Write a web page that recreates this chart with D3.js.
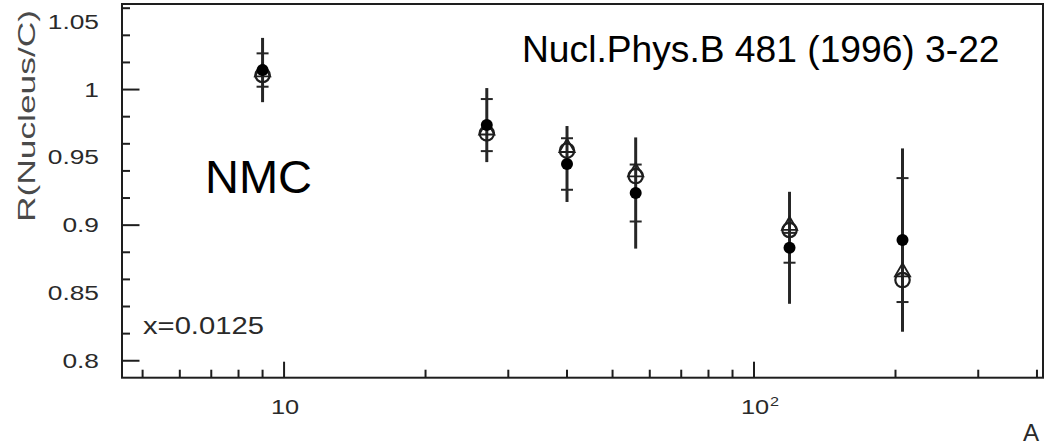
<!DOCTYPE html>
<html>
<head>
<meta charset="utf-8">
<script src="https://cdn.jsdelivr.net/npm/d3@7/dist/d3.min.js"></script>
<style>
  html, body { margin: 0; padding: 0; background: #fff; }
  svg { display: block; }
  text { font-family: "Liberation Sans", Arial, Helvetica, sans-serif; }
</style>
</head>
<body>
<svg id="chart" width="1044" height="445"></svg>
<script>
// Nuclear structure-function ratio R(A/C) at x = 0.0125 (NMC)
const nuclei      = ["Be", "Al", "Ca", "Fe", "Sn", "Pb"];
const massNumber  = [9, 27, 40, 56, 119, 207];
const ratioData   = [1.0144, 0.9738, 0.9451, 0.9237, 0.8833, 0.8890]; // filled circles
const statError   = [0.0123, 0.0192, 0.0190, 0.0210, 0.0110, 0.0457]; // inner error (caps)
const totalError  = [0.0237, 0.0273, 0.0280, 0.0410, 0.0413, 0.0676]; // full error bar
const ratioCircle = [1.0107, 0.9677, 0.9549, 0.9362, 0.8964, 0.8595]; // open circles
const ratioTriang = [1.0129, 0.9701, 0.9572, 0.9392, 0.8997, 0.8654]; // open triangles

const yTickValues = [0.8, 0.85, 0.9, 0.95, 1, 1.05];
const yTickLabels = ["0.8", "0.85", "0.9", "0.95", "1", "1.05"];
const xMajorTicks = [10, 100];
const xMajorBase  = ["10", "10"];
const xMajorExp   = ["", "2"];

const xDomain = [4.52, 412];
const yDomain = [0.7875, 1.0631];

const svg = d3.select("#chart");
const plot = { left: 122, right: 1043, top: 4, bottom: 377.7 };

const x = d3.scaleLog().domain(xDomain).range([plot.left, plot.right]);
const y = d3.scaleLinear().domain(yDomain).range([plot.bottom, plot.top]);

const AXIS = "#1e1e1e";
const STRETCH = 1.35;

// text drawn with the wide glyph proportions of the plot labels
function wideText(g, tx, ty, str, size, anchor, sx, color) {
  return g.append("text")
    .attr("transform", `translate(${tx},${ty}) scale(${sx},1)`)
    .attr("text-anchor", anchor)
    .attr("font-size", size)
    .attr("fill", color)
    .text(str);
}

const points = nuclei.map((n, i) => ({
  name: n, A: massNumber[i], v: ratioData[i], stat: statError[i], tot: totalError[i],
  circ: ratioCircle[i], tri: ratioTriang[i]
}));

// frame
svg.append("rect")
  .attr("x", plot.left).attr("y", plot.top)
  .attr("width", plot.right - plot.left).attr("height", plot.bottom - plot.top)
  .attr("fill", "none").attr("stroke", AXIS).attr("stroke-width", 2);

// y ticks (major every 0.05, minor every 0.025)
const yAll = d3.ticks(yDomain[0], yDomain[1], 11);
const gy = svg.append("g");
yAll.forEach(t => {
  const major = yTickValues.some(m => Math.abs(m - t) < 1e-6);
  gy.append("line")
    .attr("x1", plot.left).attr("x2", plot.left + (major ? 17.5 : 8))
    .attr("y1", y(t)).attr("y2", y(t))
    .attr("stroke", AXIS).attr("stroke-width", 2);
});
yTickValues.forEach((t, i) => {
  wideText(gy, 99, y(t) + 7, yTickLabels[i], 19.5, "end", STRETCH, "#2a2a2a");
});

// x ticks (log axis)
const xAll = x.ticks();
const gx = svg.append("g");
xAll.forEach(t => {
  const major = xMajorTicks.includes(t);
  gx.append("line")
    .attr("x1", x(t)).attr("x2", x(t))
    .attr("y1", plot.bottom).attr("y2", plot.bottom - (major ? 16 : 8))
    .attr("stroke", AXIS).attr("stroke-width", 2);
});
xMajorTicks.forEach((t, i) => {
  wideText(gx, x(t) + 1, 414, xMajorBase[i], 19.5, "middle", 1.3, "#2a2a2a");
  if (xMajorExp[i]) {
    wideText(gx, x(t) + 16, 406, xMajorExp[i], 13.5, "start", 1.2, "#2a2a2a");
  }
});

// axis titles
wideText(svg, 1023, 441, "A", 23, "start", 1.05, "#2a2a2a");
svg.append("text")
  .attr("transform", "translate(35,116) rotate(-90)")
  .attr("text-anchor", "middle")
  .attr("font-size", 24)
  .attr("fill", "#4a4a4a")
  .attr("textLength", 212)
  .attr("lengthAdjust", "spacingAndGlyphs")
  .text("R(Nucleus/C)");

// kinematic label
wideText(svg, 143, 334, "x=0.0125", 23, "start", 1.27, "#2a2a2a");

// annotations
svg.append("text")
  .attr("x", 205).attr("y", 193)
  .attr("font-size", 47).attr("fill", "#000")
  .text("NMC");
svg.append("text")
  .attr("x", 522).attr("y", 62)
  .attr("font-size", 37.2).attr("fill", "#000")
  .text("Nucl.Phys.B 481 (1996) 3-22");

// data
const gd = svg.append("g");
const ERR = "#262626";

// total error bars
gd.selectAll("line.tot").data(points).join("line")
  .attr("class", "tot")
  .attr("x1", d => x(d.A)).attr("x2", d => x(d.A))
  .attr("y1", d => y(d.v + d.tot)).attr("y2", d => y(d.v - d.tot))
  .attr("stroke", ERR).attr("stroke-width", 3);

// inner error caps
points.forEach(d => {
  [d.v + d.stat, d.v - d.stat].forEach(e => {
    gd.append("line")
      .attr("x1", x(d.A) - 6).attr("x2", x(d.A) + 6)
      .attr("y1", y(e)).attr("y2", y(e))
      .attr("stroke", ERR).attr("stroke-width", 2);
  });
});

// open circles
gd.selectAll("circle.open").data(points).join("circle")
  .attr("class", "open")
  .attr("cx", d => x(d.A)).attr("cy", d => y(d.circ))
  .attr("r", 7.2)
  .attr("fill", "none").attr("stroke", "#1e1e1e").attr("stroke-width", 2.2);

// open triangles
const tri = d3.symbol().type(d3.symbolTriangle).size(100);
gd.selectAll("path.tri").data(points).join("path")
  .attr("class", "tri")
  .attr("transform", d => `translate(${x(d.A)},${y(d.tri)})`)
  .attr("d", tri)
  .attr("fill", "none").attr("stroke", "#1e1e1e").attr("stroke-width", 1.8);

// filled circles
gd.selectAll("circle.fill").data(points).join("circle")
  .attr("class", "fill")
  .attr("cx", d => x(d.A)).attr("cy", d => y(d.v))
  .attr("r", 6)
  .attr("fill", "#000");
</script>
</body>
</html>
